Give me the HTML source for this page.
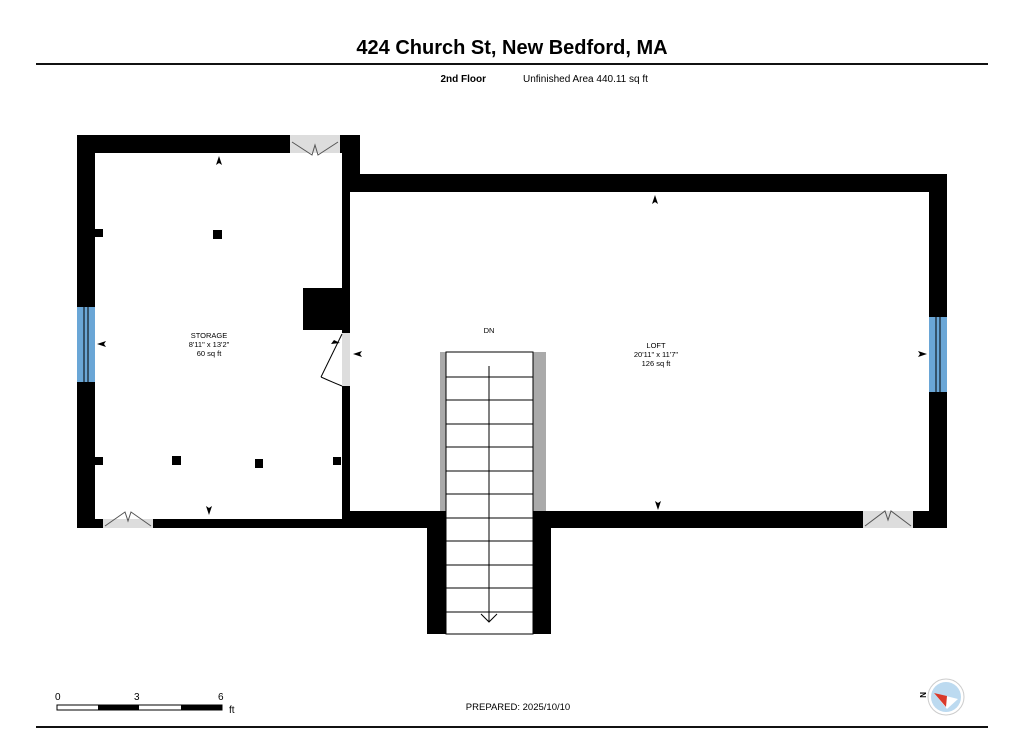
<!DOCTYPE html>
<html><head><style>body{margin:0;background:#fff}svg{display:block}</style></head><body>
<svg width="1024" height="733" viewBox="0 0 1024 733" xmlns="http://www.w3.org/2000/svg" font-family="Liberation Sans, sans-serif">
<text x="512" y="54" font-size="20" font-weight="bold" text-anchor="middle">424 Church St, New Bedford, MA</text>
<rect x="36" y="63" width="952" height="2" fill="#111"/>
<text x="486" y="82" font-size="10" font-weight="bold" text-anchor="end">2nd Floor</text>
<text x="523" y="82" font-size="10">Unfinished Area 440.11 sq ft</text>
<g fill="#000">
<rect x="77" y="135" width="213" height="18"/>
<rect x="340" y="135" width="20" height="18"/>
<rect x="342" y="135" width="18" height="57"/>
<rect x="77" y="135" width="18" height="393"/>
<rect x="342" y="174" width="605" height="18"/>
<rect x="929" y="174" width="18" height="354"/>
<rect x="342" y="135" width="8" height="198"/>
<rect x="342" y="386" width="8" height="142"/>
<rect x="77" y="519" width="370" height="9"/>
<rect x="342" y="511" width="105" height="17"/>
<rect x="533" y="511" width="414" height="17"/>
<rect x="427" y="511" width="19" height="123"/>
<rect x="533" y="511" width="18" height="123"/>
<rect x="303" y="288" width="39" height="42"/>
<rect x="95" y="229" width="8" height="8"/><rect x="213" y="230" width="9" height="9"/>
<rect x="95" y="457" width="8" height="8"/><rect x="172" y="456" width="9" height="9"/>
<rect x="255" y="459" width="8" height="9"/><rect x="333" y="457" width="8" height="8"/>
</g>
<rect x="290" y="135" width="50" height="18" fill="#ddd"/>
<polyline points="292,142 312,155 315,145 318,155 338,142" fill="none" stroke="#555"/>
<rect x="103" y="519" width="50" height="9" fill="#ddd"/>
<polyline points="105,526 125,512 128,521 131,512 151,526" fill="none" stroke="#555"/>
<rect x="863" y="511" width="50" height="17" fill="#ddd"/>
<polyline points="865,526 885,511 888,520 891,511 911,526" fill="none" stroke="#555"/>
<rect x="342" y="333" width="8" height="53" fill="#ddd"/>
<line x1="342" y1="334" x2="321" y2="377" stroke="#000"/>
<path d="M321,377 Q332,382 342,386" fill="none" stroke="#000"/>
<rect x="77" y="307" width="18" height="75" fill="#6aa6d6"/>
<line x1="84" y1="307" x2="84" y2="382" stroke="#000"/><line x1="88" y1="307" x2="88" y2="382" stroke="#000"/>
<rect x="929" y="317" width="18" height="75" fill="#6aa6d6"/>
<line x1="936" y1="317" x2="936" y2="392" stroke="#000"/><line x1="940" y1="317" x2="940" y2="392" stroke="#000"/>
<rect x="440" y="352" width="6" height="159" fill="#aaa"/>
<rect x="533" y="352" width="13" height="159" fill="#aaa"/>
<rect x="446" y="352" width="87" height="282" fill="#fff" stroke="#000"/>
<g stroke="#000">
<line x1="446" y1="377" x2="533" y2="377"/><line x1="446" y1="400" x2="533" y2="400"/>
<line x1="446" y1="424" x2="533" y2="424"/><line x1="446" y1="447" x2="533" y2="447"/>
<line x1="446" y1="471" x2="533" y2="471"/><line x1="446" y1="494" x2="533" y2="494"/>
<line x1="446" y1="518" x2="533" y2="518"/><line x1="446" y1="541" x2="533" y2="541"/>
<line x1="446" y1="565" x2="533" y2="565"/><line x1="446" y1="588" x2="533" y2="588"/>
<line x1="446" y1="612" x2="533" y2="612"/>
<line x1="489" y1="366" x2="489" y2="622"/>
<polyline points="481,614 489,622 497,614" fill="none"/>
</g>
<g fill="#000">
<path d="M219,156 l-3,9 3,-2 3,2z"/><path d="M209,515 l-3,-9 3,2 3,-2z"/>
<path d="M97,344 l9,-3 -2,3 2,3z"/><path d="M353,354 l9,-3 -2,3 2,3z"/>
<path d="M334,340 l6,3 -9,1z"/>
<path d="M655,195 l-3,9 3,-2 3,2z"/><path d="M658,510 l-3,-9 3,2 3,-2z"/>
<path d="M927,354 l-9,-3 2,3 -2,3z"/>
</g>
<g font-size="7.5" text-anchor="middle">
<text x="209" y="338">STORAGE</text><text x="209" y="347">8'11" x 13'2"</text><text x="209" y="356">60 sq ft</text>
<text x="489" y="333">DN</text>
<text x="656" y="348">LOFT</text><text x="656" y="357">20'11" x 11'7"</text><text x="656" y="366">126 sq ft</text>
</g>
<g font-size="10"><text x="55" y="700">0</text><text x="134" y="700">3</text><text x="218" y="700">6</text><text x="229" y="713">ft</text></g>
<rect x="57" y="705" width="165" height="5" fill="#fff" stroke="#000"/>
<rect x="98" y="705" width="41" height="5" fill="#000"/><rect x="181" y="705" width="41" height="5" fill="#000"/>
<text x="518" y="710" font-size="9.5" text-anchor="middle">PREPARED: 2025/10/10</text>
<circle cx="946" cy="697" r="18" fill="#fff" stroke="#ccc"/>
<circle cx="946" cy="697" r="15" fill="#bcdaf0"/>
<path d="M934,693 l24,6 -11,10z" fill="#fff"/>
<path d="M934,693 l13,3 -1,11z" fill="#d93a2b"/>
<text x="923" y="695" font-size="8" font-weight="bold" transform="rotate(90 923 692)">N</text>
<rect x="36" y="726" width="952" height="2" fill="#111"/>
</svg>
</body></html>
